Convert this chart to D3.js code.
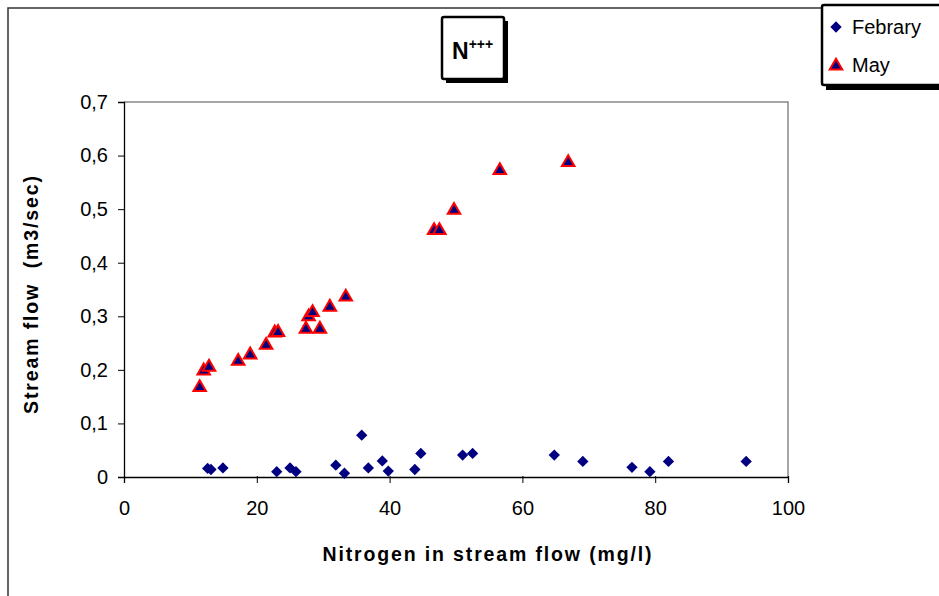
<!DOCTYPE html>
<html lang="en">
  <head>
    <meta charset="utf-8">
    <title>N+++ stream flow</title>
    <script src="https://d3js.org/d3.v7.min.js"></script>
    <style type="text/css">
      html, body {
        font-family: "Liberation Sans", Arial, sans-serif;
        margin: 0; padding: 0;
        background: #fff;
      }
    </style>
  </head>

  <body>
    <svg width="939" height="596"></svg>

    <script type="text/javascript">

      // data: nitrogen (mg/l) vs stream flow (m3/sec)
      var febN    = [12.6, 13.1, 14.9, 23.0, 25.0, 25.9, 31.9, 33.2, 35.8, 36.8, 38.9,
                     39.8, 43.8, 44.7, 51.0, 52.5, 64.8, 69.1, 76.5, 79.2, 82.0, 93.7];
      var febFlow = [0.016, 0.014, 0.017, 0.010, 0.017, 0.010, 0.022, 0.007, 0.078, 0.017, 0.030,
                     0.011, 0.014, 0.044, 0.041, 0.044, 0.041, 0.029, 0.018, 0.010, 0.029, 0.029];
      var mayN    = [11.4, 12.0, 12.8, 17.2, 19.0, 21.4, 22.7, 23.2, 27.4, 29.5, 27.8,
                     28.4, 31.0, 33.4, 46.7, 47.5, 49.7, 56.6, 66.9];
      var mayFlow = [0.169, 0.200, 0.207, 0.218, 0.230, 0.248, 0.271, 0.272, 0.278, 0.278, 0.301,
                     0.309, 0.319, 0.338, 0.462, 0.462, 0.500, 0.574, 0.589];
      var xTicks = [0, 20, 40, 60, 80, 100];
      var yTicks = [0, 0.1, 0.2, 0.3, 0.4, 0.5, 0.6, 0.7];
      var seriesNames = ["Febrary", "May"];

      var svg = d3.select("svg");

      // outer chart frame
      svg.append("rect")
         .attr("x", 8).attr("y", 8)
         .attr("width", 1000).attr("height", 700)
         .style("fill", "none")
         .style("stroke", "#333")
         .style("stroke-width", 1.5);

      var x = d3.scaleLinear().domain([0, 100]).range([124, 788]);
      var y = d3.scaleLinear().domain([0, 0.7]).range([477, 102]);

      // plot area border (grey top + right)
      svg.append("path")
         .attr("d", "M" + x(0) + "," + y(0.7) + "H" + x(100) + "V" + y(0))
         .style("fill", "none")
         .style("stroke", "#888")
         .style("stroke-width", 1.5);

      var fmt = function(d) { return d3.format(".1f")(d).replace(".", ",").replace(/^0,0$/, "0"); };

      var xAxis = svg.append("g")
         .attr("transform", "translate(0," + y(0) + ")")
         .call(d3.axisBottom(x).tickValues(xTicks).tickSize(6).tickPadding(18).tickFormat(d3.format("d")));
      var yAxis = svg.append("g")
         .attr("transform", "translate(" + x(0) + ",0)")
         .call(d3.axisLeft(y).tickValues(yTicks).tickSize(6).tickPadding(10).tickFormat(fmt));

      [xAxis, yAxis].forEach(function(g) {
        g.select(".domain").style("stroke", "#000").style("stroke-width", 1.3);
        g.selectAll(".tick line").style("stroke", "#000");
        g.selectAll("text")
         .style("font-family", "'Liberation Sans', Arial, sans-serif")
         .style("font-size", "20px")
         .style("fill", "#000");
      });
      xAxis.selectAll(".tick line").attr("y1", -1);

      // axis titles
      svg.append("text")
         .attr("x", 487).attr("y", 561)
         .attr("text-anchor", "middle")
         .attr("textLength", 329)
         .attr("lengthAdjust", "spacing")
         .style("font-size", "19.5px").style("font-weight", "bold")
         .text("Nitrogen in stream flow (mg/l)");

      svg.append("text")
         .attr("transform", "translate(38,295) rotate(-90)")
         .attr("text-anchor", "middle")
         .attr("textLength", 238)
         .attr("lengthAdjust", "spacing")
         .style("font-size", "19.5px").style("font-weight", "bold")
         .style("white-space", "pre")
         .text("Stream flow  (m3/sec)");

      // markers
      var diamond = d3.symbol().type(d3.symbolSquare).size(64);
      var triangle = d3.symbol().type(d3.symbolTriangle).size(68);

      svg.append("g").selectAll("path")
         .data(febN)
         .enter()
         .append("path")
         .attr("d", diamond)
         .attr("transform", function(d, i) {
           return "translate(" + x(d) + "," + y(febFlow[i]) + ") rotate(45)";
         })
         .style("fill", "#000080");

      svg.append("g").selectAll("path")
         .data(mayN)
         .enter()
         .append("path")
         .attr("d", triangle)
         .attr("transform", function(d, i) {
           return "translate(" + x(d) + "," + (y(mayFlow[i]) + 1) + ")";
         })
         .style("fill", "#000080")
         .style("stroke", "#ff0000")
         .style("stroke-width", 2);

      // title box with shadow
      svg.append("rect")
         .attr("x", 446).attr("y", 21).attr("width", 62).attr("height", 62)
         .style("fill", "#000");
      svg.append("rect")
         .attr("x", 442).attr("y", 17).attr("width", 62).attr("height", 62)
         .attr("rx", 2)
         .style("fill", "#fff").style("stroke", "#000").style("stroke-width", 2.5);
      var title = svg.append("text")
         .attr("x", 452).attr("y", 59)
         .style("font-size", "23px").style("font-weight", "bold");
      title.append("tspan").text("N");
      title.append("tspan").attr("dy", -10).style("font-size", "14px").text("+++");

      // legend with shadow
      svg.append("rect")
         .attr("x", 826).attr("y", 9).attr("width", 140).attr("height", 81)
         .style("fill", "#000");
      svg.append("rect")
         .attr("x", 822).attr("y", 5).attr("width", 140).attr("height", 80)
         .attr("rx", 2)
         .style("fill", "#fff").style("stroke", "#000").style("stroke-width", 2.5);

      var legend = svg.append("g").selectAll("g")
         .data(seriesNames)
         .enter()
         .append("g")
         .attr("transform", function(d, i) { return "translate(836," + (27 + i * 38) + ")"; });

      legend.append("path")
         .attr("d", function(d, i) { return i == 0 ? diamond() : triangle(); })
         .attr("transform", function(d, i) { return i == 0 ? "rotate(45)" : "translate(0,1)"; })
         .style("fill", "#000080")
         .style("stroke", function(d, i) { return i == 0 ? "none" : "#ff0000"; })
         .style("stroke-width", 2);

      legend.append("text")
         .attr("x", 16).attr("y", 7)
         .style("font-size", "20px")
         .text(function(d) { return d; });

    </script>
  </body>
</html>
